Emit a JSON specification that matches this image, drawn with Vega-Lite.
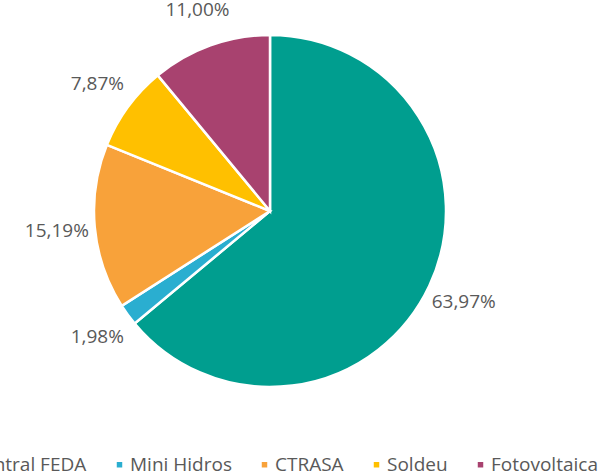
{
  "$schema": "https://vega.github.io/schema/vega-lite/v6.json",
  "width": 540,
  "height": 422,
  "autosize": {"type": "none"},
  "padding": {"left": 0, "top": 0, "right": 58, "bottom": 51},
  "background": "white",
  "config": {"view": {"stroke": null}, "font": "Open Sans"},
  "data": {
    "values": [
      {"source": "Central FEDA", "share": 63.97, "label": "63,97%", "ord": 1},
      {"source": "Mini Hidros", "share": 1.98, "label": "1,98%", "ord": 2},
      {"source": "CTRASA", "share": 15.19, "label": "15,19%", "ord": 3},
      {"source": "Soldeu", "share": 7.87, "label": "7,87%", "ord": 4},
      {"source": "Fotovoltaica", "share": 11.0, "label": "11,00%", "ord": 5}
    ]
  },
  "encoding": {
    "theta": {"field": "share", "type": "quantitative", "stack": true},
    "order": {"field": "ord", "type": "quantitative"}
  },
  "layer": [
    {
      "mark": {"type": "arc", "outerRadius": 176, "stroke": "white", "strokeWidth": 2.5},
      "encoding": {
        "color": {
          "field": "source",
          "type": "nominal",
          "scale": {
            "domain": ["Central FEDA", "Mini Hidros", "CTRASA", "Soldeu", "Fotovoltaica"],
            "range": ["#009E8F", "#2AAED0", "#F8A23A", "#FFC000", "#A8426F"]
          },
          "legend": {
            "title": null,
            "orient": "none",
            "direction": "horizontal",
            "legendX": -49,
            "legendY": 455,
            "symbolType": "square",
            "symbolSize": 30,
            "symbolStrokeWidth": 0,
            "labelFont": "Open Sans",
            "labelFontSize": 19,
            "labelColor": "#595959",
            "labelOffset": 1,
            "columnPadding": 23
          }
        }
      }
    },
    {
      "mark": {"type": "text", "radius": 214, "font": "Open Sans", "fontSize": 19, "color": "#595959", "align": "center", "baseline": "middle"},
      "encoding": {
        "text": {"field": "label", "type": "nominal"}
      }
    }
  ]
}
